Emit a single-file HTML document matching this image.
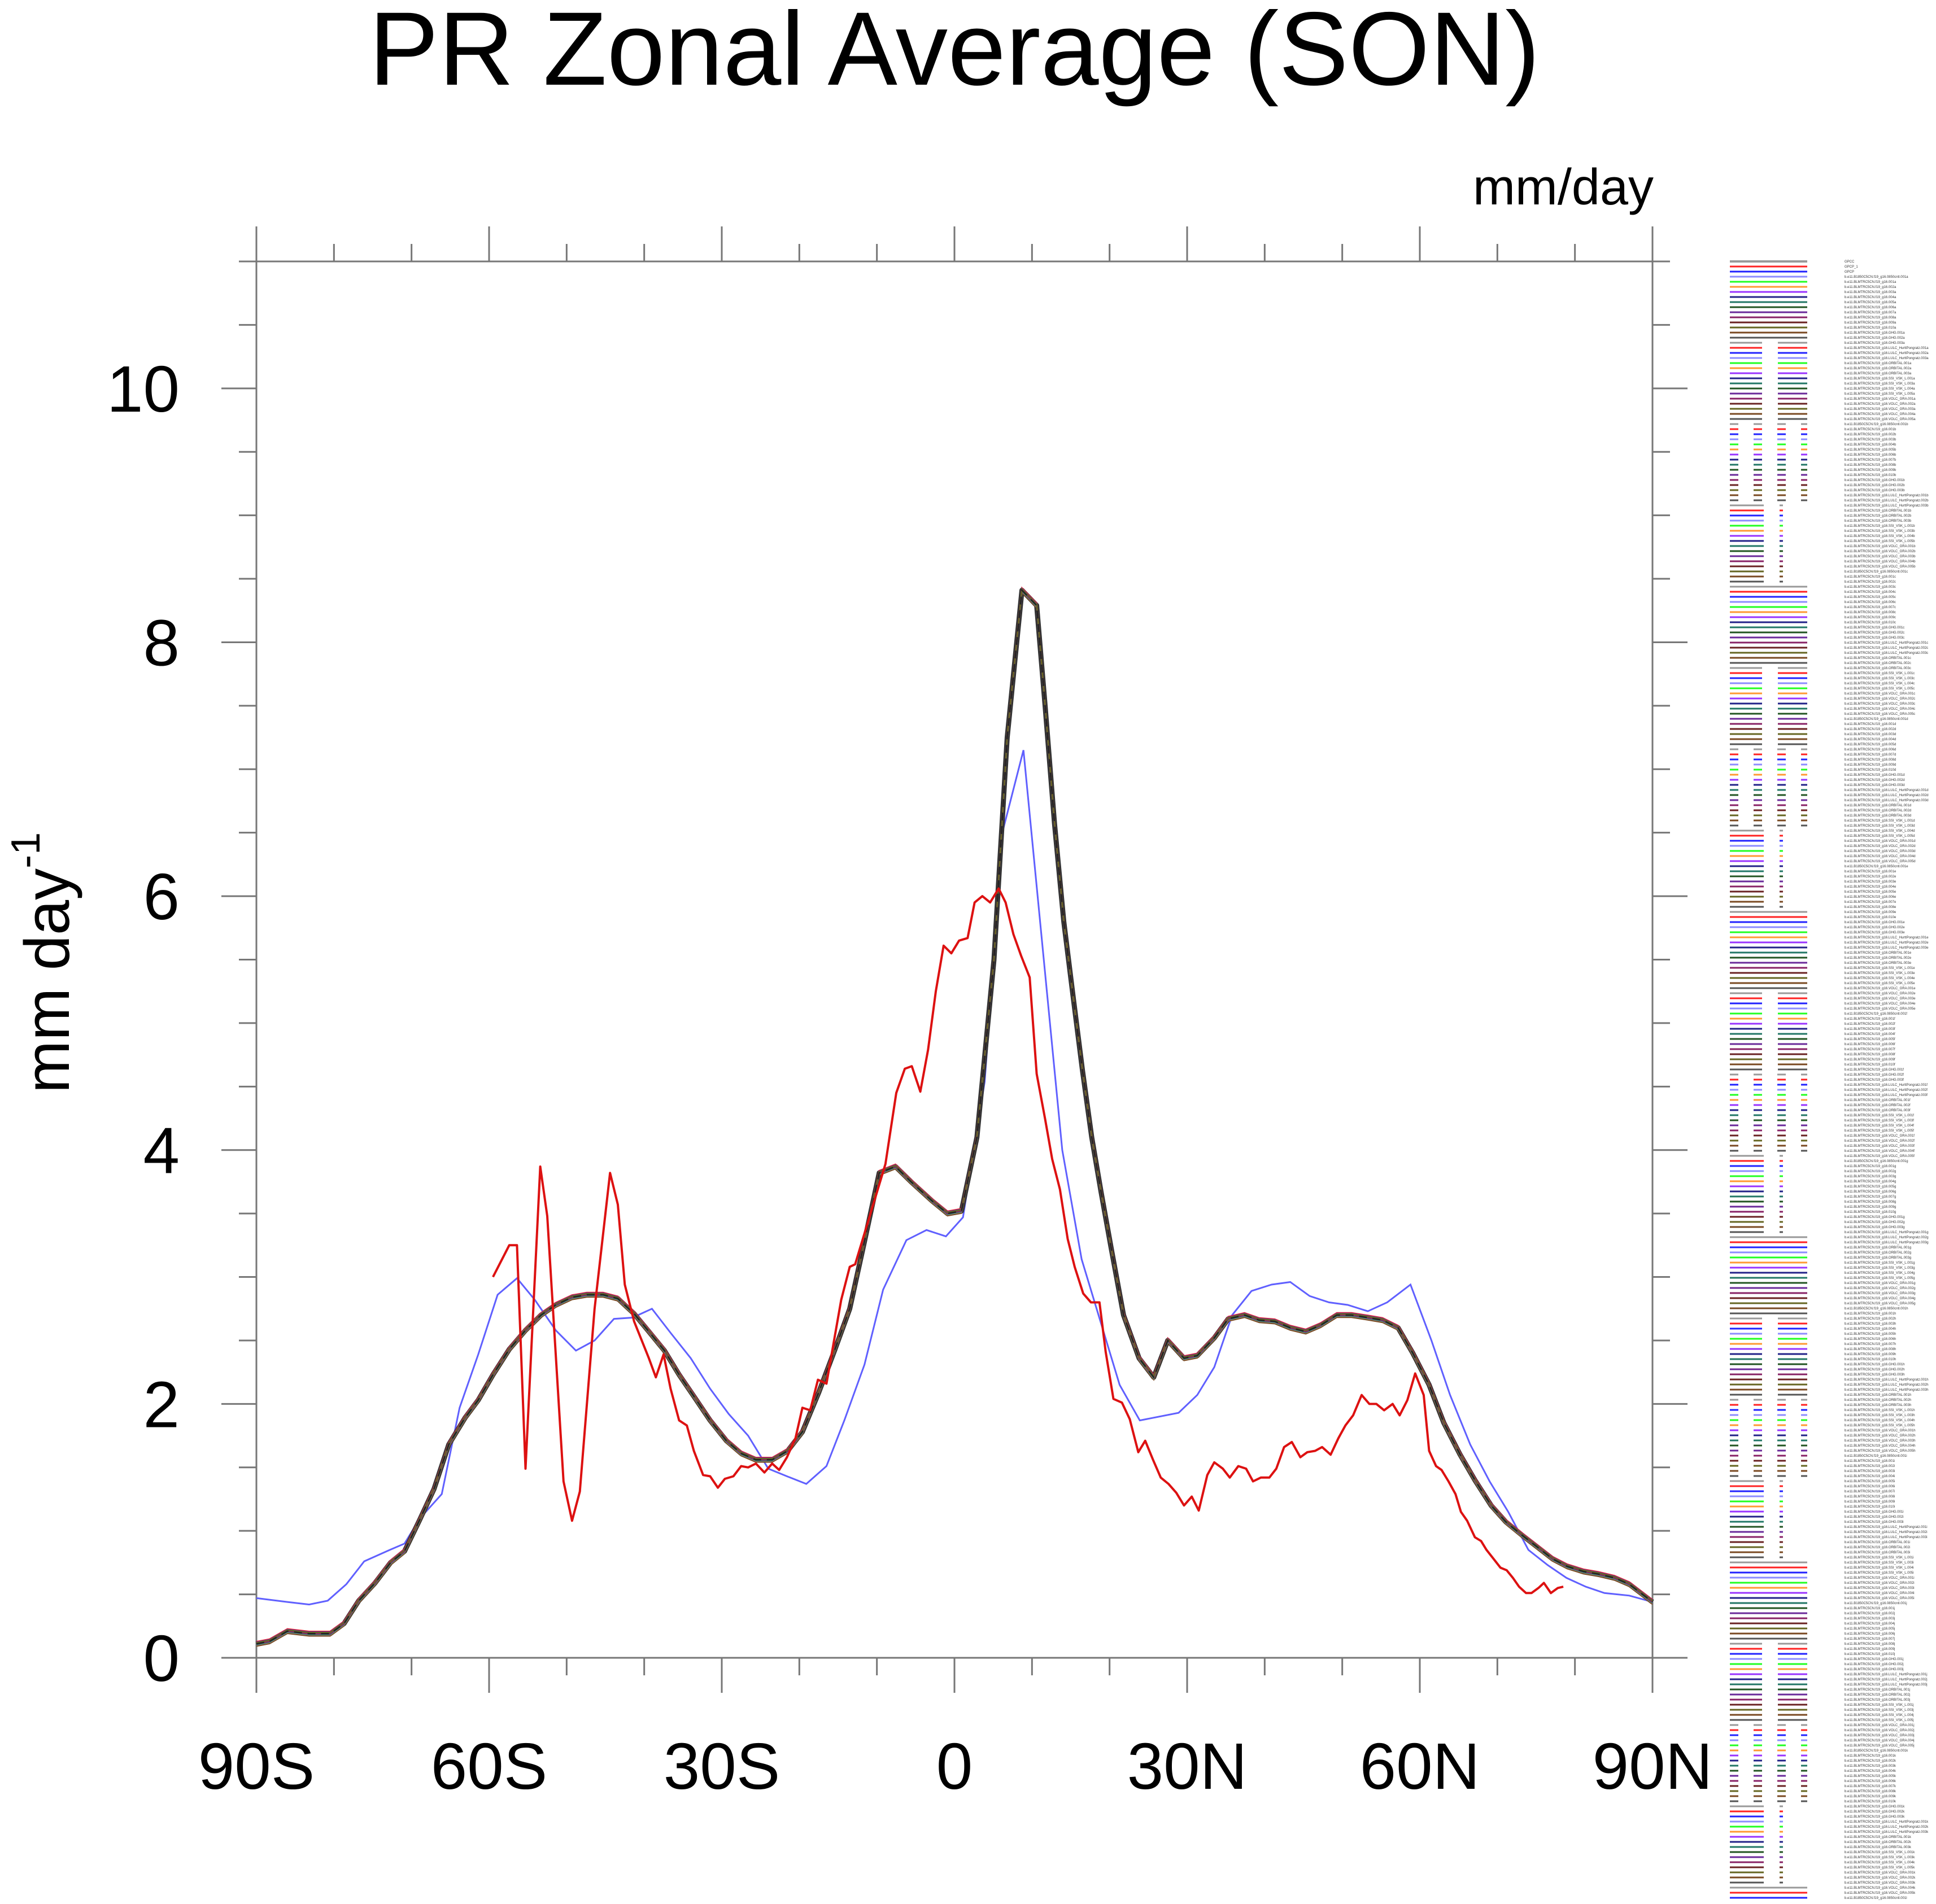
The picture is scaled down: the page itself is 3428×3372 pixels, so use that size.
<!DOCTYPE html>
<html><head><meta charset="utf-8">
<style>
html,body{margin:0;padding:0;background:#fff;}
svg{display:block;font-family:"Liberation Sans",sans-serif;}
</style></head>
<body>
<svg id="chart" width="3428" height="3372" viewBox="0 0 3428 3372" xmlns="http://www.w3.org/2000/svg">
<rect width="3428" height="3372" fill="#fff"/>
<text x="1690" y="150" font-size="185" text-anchor="middle">PR Zonal Average (SON)</text>
<text x="2928" y="362" font-size="90" text-anchor="end">mm/day</text>
<text transform="translate(122,1705) rotate(-90)" font-size="112" text-anchor="middle">mm day<tspan font-size="72" dy="-52">-1</tspan></text>
<g id="axes"></g>
<g id="series"></g>
<g id="legend"></g>
</svg>
<script>
// ---------- data ----------
var xTickLabels = ["90S","60S","30S","0","30N","60N","90N"];
var xTickValues = [-90,-60,-30,0,30,60,90];
var yTickLabels = ["0","2","4","6","8","10"];
var yTickValues = [0,2,4,6,8,10];

var ensLat = [-90,-88.3,-86,-83.2,-80.5,-78.7,-76.8,-74.7,-72.7,-70.9,-69,-67.1,-65.2,-63.1,-61.4,-59.5,-57.4,-55.3,-53.3,-51.4,-49.3,-47.4,-45.3,-43.4,-41.3,-39.4,-37.4,-35.5,-33.6,-31.5,-29.4,-27.5,-25.6,-23.5,-21.5,-19.6,-17.5,-15.4,-13.5,-11.6,-9.7,-7.6,-5.6,-2.9,-0.9,0.9,2.9,5.1,6.8,8.7,10.6,11.7,12.9,14.1,15.3,16.5,17.7,18.9,20.2,21.8,23.8,25.7,27.5,29.6,31.3,33.5,35.3,37.4,39.3,41.3,43.3,45.3,47.2,49.3,51.2,53.3,55.2,57.2,59.1,61.2,63.1,65.2,67.1,69.2,71.1,73.1,75,77.1,79,81.1,83,85.1,87,90];
var ensVal = [0.11,0.13,0.21,0.19,0.19,0.27,0.45,0.59,0.75,0.84,1.08,1.33,1.68,1.89,2.03,2.23,2.43,2.58,2.70,2.78,2.84,2.86,2.86,2.83,2.71,2.57,2.42,2.23,2.06,1.87,1.71,1.61,1.56,1.56,1.63,1.78,2.09,2.43,2.75,3.28,3.82,3.87,3.75,3.6,3.5,3.52,4.1,5.5,7.25,8.41,8.29,7.49,6.57,5.8,5.21,4.63,4.1,3.67,3.23,2.7,2.36,2.21,2.5,2.36,2.38,2.52,2.67,2.7,2.66,2.65,2.6,2.57,2.62,2.7,2.7,2.68,2.66,2.6,2.4,2.15,1.85,1.6,1.4,1.2,1.07,0.97,0.88,0.78,0.72,0.68,0.66,0.63,0.58,0.44];

var redLat = [-59.5,-57.4,-56.4,-55.3,-53.4,-52.5,-50.4,-49.3,-48.3,-46.4,-44.4,-43.4,-42.5,-41.3,-39.4,-38.5,-37.5,-36.6,-35.5,-34.5,-33.6,-32.4,-31.5,-30.5,-29.6,-28.5,-27.5,-26.6,-25.6,-24.5,-23.5,-22.6,-21.6,-20.5,-19.6,-18.6,-17.6,-16.5,-14.6,-13.5,-12.8,-8.9,-7.5,-6.4,-5.5,-4.4,-3.4,-2.4,-1.4,-0.4,0.6,1.7,2.6,3.6,4.6,5.7,6.6,7.6,8.6,9.7,10.6,11.7,12.6,13.6,14.6,15.5,16.6,17.6,18.7,19.5,20.5,21.6,22.6,23.7,24.6,25.6,26.6,27.6,28.6,29.6,30.6,31.5,32.6,33.5,34.6,35.5,36.6,37.6,38.5,39.5,40.6,41.5,42.5,43.5,44.6,45.5,46.5,47.4,48.5,49.5,50.4,51.4,52.5,53.5,54.4,55.4,56.5,57.4,58.4,59.4,60.5,61.2,62.1,62.8,63.7,64.6,65.3,66.1,67.1,67.9,68.6,69.5,70.4,71.2,72,72.8,73.7,74.4,75.3,76,76.9,77.8,78.5];
var redVal = [3.0,3.25,3.25,1.49,3.87,3.48,1.39,1.08,1.31,2.75,3.82,3.57,2.94,2.65,2.36,2.21,2.39,2.12,1.87,1.83,1.63,1.44,1.43,1.34,1.41,1.43,1.51,1.5,1.53,1.46,1.53,1.48,1.58,1.73,1.97,1.95,2.19,2.16,2.82,3.08,3.1,3.89,4.45,4.64,4.66,4.46,4.79,5.25,5.61,5.55,5.65,5.67,5.95,6.0,5.95,6.06,5.95,5.7,5.53,5.36,4.6,4.24,3.93,3.69,3.3,3.08,2.87,2.8,2.8,2.41,2.04,2.01,1.88,1.62,1.71,1.56,1.42,1.37,1.3,1.2,1.27,1.16,1.44,1.54,1.49,1.42,1.51,1.49,1.39,1.42,1.42,1.49,1.66,1.7,1.58,1.62,1.63,1.66,1.6,1.73,1.83,1.91,2.07,2.0,2.0,1.95,2.0,1.91,2.03,2.24,2.07,1.63,1.51,1.48,1.39,1.29,1.15,1.08,0.95,0.92,0.85,0.78,0.71,0.69,0.63,0.56,0.51,0.51,0.55,0.59,0.51,0.55,0.56];

var blueLat = [-90,-86,-83.2,-80.8,-78.4,-76.1,-72.8,-70.9,-68.9,-66.1,-63.8,-61.4,-58.9,-56.4,-54.1,-51.4,-48.8,-46.4,-43.9,-41.5,-39,-36.6,-34,-31.5,-29.1,-26.6,-24,-21.6,-19.1,-16.5,-14.2,-11.6,-9.2,-6.2,-3.6,-1.1,1.1,3.9,6.3,8.9,13.9,16.4,21.3,23.9,28.9,31.3,33.5,35.8,38.3,40.9,43.3,45.8,48.3,50.7,53.3,55.8,58.8,61.5,63.9,66.5,69,71.4,74,76.5,78.9,81.4,83.8,87,90];
var blueVal = [0.47,0.44,0.42,0.45,0.58,0.76,0.85,0.9,1.1,1.29,1.97,2.39,2.86,2.99,2.82,2.58,2.42,2.5,2.67,2.68,2.75,2.56,2.36,2.12,1.92,1.75,1.49,1.43,1.37,1.51,1.87,2.31,2.9,3.29,3.37,3.32,3.47,4.54,6.53,7.15,4.0,3.14,2.15,1.87,1.93,2.07,2.29,2.7,2.89,2.94,2.96,2.85,2.8,2.78,2.73,2.8,2.94,2.5,2.07,1.68,1.39,1.15,0.85,0.73,0.63,0.56,0.51,0.49,0.44];

// ---------- axes ----------
var L=454, R=2926, T=463, B=2936, YMAX=11;
function xs(lat){return L+(lat+90)/180*(R-L);}
function ys(v){return B-v/YMAX*(B-T);}
var NS="http://www.w3.org/2000/svg";
function mk(tag,attrs,parent){var e=document.createElementNS(NS,tag);for(var k in attrs)e.setAttribute(k,attrs[k]);parent.appendChild(e);return e;}
var ax=document.getElementById('axes');
var frame=mk('rect',{x:L,y:T,width:R-L,height:B-T,fill:'none',stroke:'#777','stroke-width':3},ax);


for(var d=-90; d<=90; d+=10){
  var major = (d%30===0), len = major?62:31, x=xs(d);
  var t1=mk('line',{x1:x,x2:x,y1:B,y2:B+len,stroke:'#777','stroke-width':3},ax);
  
  
  var t2=mk('line',{x1:x,x2:x,y1:T,y2:T-len,stroke:'#777','stroke-width':3},ax);
  
  
}
for(var v=0; v<=11.001; v+=0.5){
  var major = (Math.abs(v%2)<1e-6 && v<=10), len = major?62:31, y=ys(v);
  var t3=mk('line',{x1:L-len,x2:L,y1:y,y2:y,stroke:'#777','stroke-width':3},ax);
  
  
  var t4=mk('line',{x1:R,x2:R+len,y1:y,y2:y,stroke:'#777','stroke-width':3},ax);
  
  
}
xTickValues.forEach(function(val,i){
  var t=mk('text',{x:xs(val),y:3168,'font-size':116,'text-anchor':'middle'},ax);
  t.textContent=xTickLabels[i];
  
  
});
yTickValues.forEach(function(val,i){
  var t=mk('text',{x:318,y:ys(val)+41,'font-size':116,'text-anchor':'end'},ax);
  t.textContent=yTickLabels[i];
  
  
});

// ---------- series ----------
var sg=document.getElementById('series');
function pathD(lats,vals,dx,dy){var s='';for(var i=0;i<lats.length;i++){s+=(i?'L':'M')+(xs(lats[i])+dx).toFixed(1)+','+(ys(vals[i])+dy).toFixed(1);}return s;}
var p=mk('path',{d:pathD(blueLat,blueVal,0,0),fill:'none',stroke:'#6060ff','stroke-width':3},sg);


p=mk('path',{d:pathD(ensLat,ensVal,0,0),fill:'none',stroke:'#333','stroke-width':9,'stroke-linejoin':'round'},sg);


var ensColors=['#ff2222','#2222ff','#22aa22','#7a4a22','#6a2a9a','#888888','#227766','#222288','#882266','#666622'];
var offs=[-4,3,-2,4,-3,2,1,-1,0,-2];
ensColors.forEach(function(c,i){
  var q=mk('path',{d:pathD(ensLat,ensVal,0,offs[i]),fill:'none',stroke:c,'stroke-width':2.5},sg);
  
  
});
p=mk('path',{d:pathD(ensLat,ensVal,0,0),fill:'none',stroke:'#222','stroke-width':2.5,'stroke-dasharray':'14 10'},sg);


p=mk('path',{d:pathD(redLat,redVal,0,0),fill:'none',stroke:'#dd1111','stroke-width':4,'stroke-linejoin':'round'},sg);



// ---------- legend ----------
var lg=document.getElementById('legend');
var legColors=['#999999','#ff2222','#2222ff','#8c8cff','#22ff22','#ff9933','#9933ff','#222288','#227766','#225522','#6a2a9a','#882266','#6a2222','#666622','#7a4a22','#555555'];
var legDash=['none','57 28','15 27','60 28 6 60'];
var exps=['0850cntl.001','001','002','003','004','005','006','007','008','009','010','GHG.001','GHG.002','GHG.003','LULC_HurttPongratz.001','LULC_HurttPongratz.002','LULC_HurttPongratz.003','ORBITAL.001','ORBITAL.002','ORBITAL.003','SSI_VSK_L.001','SSI_VSK_L.003','SSI_VSK_L.004','SSI_VSK_L.005','VOLC_GRA.001','VOLC_GRA.002','VOLC_GRA.003','VOLC_GRA.004','VOLC_GRA.005'];
var sfx='abcdefghijklmnop';
for(var i=0;i<323;i++){
  var y=463+i*9;
  var col=legColors[i%16];
  var dash=legDash[Math.floor(i/16)%4];
  var ln=mk('line',{x1:3063,x2:3200,y1:y,y2:y,stroke:col,'stroke-width':(i===0?4:3)},lg);
  if(dash!=='none') ln.setAttribute('stroke-dasharray',dash);
  
  
  var name;
  if(i===0) name='GPCC'; else if(i===1) name='GPCP_1'; else if(i===2) name='GPCP';
  else { var k=i-3; var e=exps[k%exps.length]; var s=sfx[Math.floor(k/exps.length)%sfx.length];
    name=(e.indexOf('0850')===0?'b.e11.B1850C5CN.f19_g16.':'b.e11.BLMTRC5CN.f19_g16.')+e+s; }
  var tx=mk('text',{x:3266,y:y+2,'font-size':6,fill:'#333'},lg);
  tx.textContent=name;
  
  
}
</script>
</body></html>
